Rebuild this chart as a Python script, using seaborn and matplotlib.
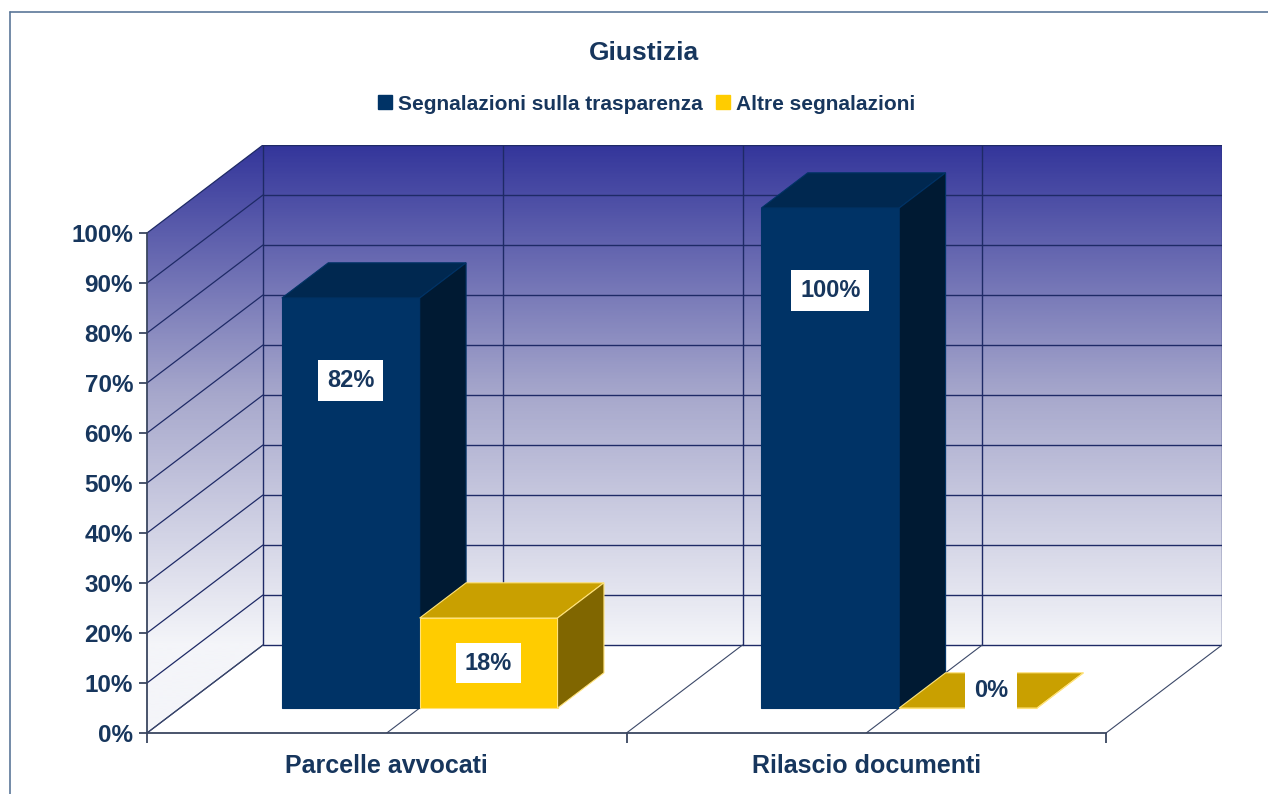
import numpy as np
import pandas as pd
import matplotlib
matplotlib.use("Agg")
import matplotlib.pyplot as plt
import seaborn as sns
from matplotlib.patches import Polygon
from matplotlib.transforms import Affine2D
from matplotlib.lines import Line2D
from matplotlib.colors import LinearSegmentedColormap

# ---------------- data ----------------
title = "Giustizia"
categories = ["Parcelle avvocati", "Rilascio documenti"]
series_names = ["Segnalazioni sulla trasparenza", "Altre segnalazioni"]
trasparenza = [82, 100]
altre = [18, 0]
y_ticks = [0, 10, 20, 30, 40, 50, 60, 70, 80, 90, 100]
y_tick_labels = ["0%", "10%", "20%", "30%", "40%", "50%", "60%", "70%", "80%", "90%", "100%"]

# ---------------- style ----------------
sns.set_theme(style="white")
plt.rcParams["font.family"] = ["Liberation Sans", "DejaVu Sans"]

TEXT = "#17365D"
GRID = "#1E2A66"
AXIS = "#3A4660"
front_colors = ["#003366", "#FFCC00"]
top_colors = ["#002850", "#C9A000"]
side_colors = ["#001A33", "#806600"]
edge_colors = ["#003366", "#FFE27A"]

W, H = 1268, 794
fig = plt.figure(figsize=(W / 100, H / 100), dpi=100)
fig.patch.set_facecolor("white")

# depth of the 3-D box (in data units)
DX = 116 / 479.5
DY = 17.6
XL, XR = -0.5, 1.5
YMAX = 100

ax = fig.add_axes([147 / W, (H - 733) / H, (1222 - 147) / W, (733 - 145) / H])

# ---------------- bars through seaborn ----------------
df = pd.DataFrame({
    "Categoria": categories * 2,
    "Serie": [series_names[0]] * len(categories) + [series_names[1]] * len(categories),
    "Valore": trasparenza + altre,
})
sns.barplot(data=df, x="Categoria", y="Valore", hue="Serie", hue_order=series_names,
            palette=front_colors, width=0.575, saturation=1, legend=False, ax=ax)

# ---------------- walls with gradient ----------------
cmap = LinearSegmentedColormap.from_list("wall", ["#F4F5F9", "#A7A8CC", "#34369B"])
yy = np.linspace(0, YMAX + DY, 500)
t = np.clip((yy - DY) / YMAX, 0, 1)
im = ax.imshow(t[:, None], extent=(XL, XR + DX, 0, YMAX + DY), origin="lower",
               cmap=cmap, vmin=0, vmax=1, aspect="auto", zorder=0.5, interpolation="bilinear")
wall = Polygon([(XL, 0), (XL + DX, DY), (XR + DX, DY), (XR + DX, YMAX + DY),
                (XL + DX, YMAX + DY), (XL, YMAX)], closed=True, transform=ax.transData,
               fc="none", ec="none")
ax.add_patch(wall)
im.set_clip_path(wall)

# grid lines
for v in y_ticks:
    ax.plot([XL + DX, XR + DX], [v + DY, v + DY], color=GRID, lw=1.0, zorder=1)
    ax.plot([XL, XL + DX], [v, v + DY], color=GRID, lw=0.9, zorder=1)
for k in np.arange(XL, XR + 0.01, 0.5):
    ax.plot([k + DX, k + DX], [DY, YMAX + DY], color=GRID, lw=1.0, zorder=1)
    ax.plot([k, k + DX], [0, DY], color="#3B4868", lw=0.8, zorder=1)

# ---------------- 3-D faces and labels ----------------
F0 = 0.284   # depth position of the bar fronts
BD = 0.40    # bar depth
front_off = Affine2D().translate(F0 * DX, F0 * DY) + ax.transData
for hi, cont in enumerate(ax.containers):
    for bar in cont:
        bar.set_transform(front_off)
        bar.set_zorder(3 + hi)
        bar.set_edgecolor(edge_colors[hi])
        bar.set_linewidth(0.8)
        x, w, h = bar.get_x(), bar.get_width(), bar.get_height()
        top = Polygon([(x, h), (x + w, h), (x + w + BD * DX, h + BD * DY), (x + BD * DX, h + BD * DY)],
                      closed=True, transform=front_off, fc=top_colors[hi],
                      ec=edge_colors[hi], lw=0.8, zorder=3 + hi)
        side = Polygon([(x + w, 0), (x + w + BD * DX, BD * DY), (x + w + BD * DX, h + BD * DY), (x + w, h)],
                       closed=True, transform=front_off, fc=side_colors[hi],
                       ec=edge_colors[hi], lw=0.8, zorder=3 + hi)
        ax.add_patch(top)
        ax.add_patch(side)
        if h > 0:
            tx, ty = x + w / 2, max(h - 16.5, h / 2)
        else:
            tx, ty = x + w / 2 + BD * DX / 2, BD * DY / 2
        ax.text(tx, ty, f"{h:.0f}%", transform=front_off, ha="center", va="center",
                fontsize=17, fontweight="bold", color=TEXT, zorder=8,
                bbox=dict(boxstyle="square,pad=0.38", fc="white", ec="none"))

# ---------------- axes ----------------
ax.set_xlim(XL, XR + DX)
ax.set_ylim(0, YMAX + DY)
ax.set_facecolor("none")
ax.grid(False)
for s in ["top", "right"]:
    ax.spines[s].set_visible(False)
ax.spines["left"].set_bounds(0, YMAX)
ax.spines["bottom"].set_bounds(XL, XR)
for s in ["left", "bottom"]:
    ax.spines[s].set_color(AXIS)
    ax.spines[s].set_linewidth(1.3)
    ax.spines[s].set_zorder(2)

ax.set_yticks(y_ticks, labels=y_tick_labels)
ax.set_xticks([XL, 0.5, XR], labels=["", "", ""])
ax.set_xticks(range(len(categories)), labels=categories, minor=True)
ax.tick_params(axis="y", which="major", length=6, width=1.3, color=AXIS, left=True,
               labelsize=17.5, labelcolor=TEXT, pad=4)
ax.tick_params(axis="x", which="major", length=7, width=1.3, color=AXIS, bottom=True)
ax.tick_params(axis="x", which="minor", length=0, labelsize=18, labelcolor=TEXT, pad=15)
for lbl in ax.get_yticklabels() + ax.get_xticklabels(minor=True):
    lbl.set_fontweight("bold")
ax.set_xlabel("")
ax.set_ylabel("")

# ---------------- title & legend ----------------
fig.text(644 / W, 1 - 53 / H, title, ha="center", va="center",
         fontsize=19, fontweight="bold", color=TEXT)
handles = [Line2D([], [], marker="s", ls="", color=c, markersize=10) for c in front_colors]
fig.legend(handles, series_names, loc="center", bbox_to_anchor=(646 / W, 1 - 104 / H),
           ncol=2, frameon=False, handletextpad=0.2, columnspacing=0.6, handlelength=0.8,
           prop={"size": 15, "weight": "bold"}, labelcolor=TEXT)

# chart border
fig.add_artist(Line2D([10 / W, 10 / W], [0, 1 - 12 / H], transform=fig.transFigure,
                      color="#5B7798", lw=1.2))
fig.add_artist(Line2D([10 / W, 1], [1 - 12 / H, 1 - 12 / H], transform=fig.transFigure,
                      color="#5B7798", lw=1.2))

fig.savefig("out.png", dpi=100, facecolor="white")
